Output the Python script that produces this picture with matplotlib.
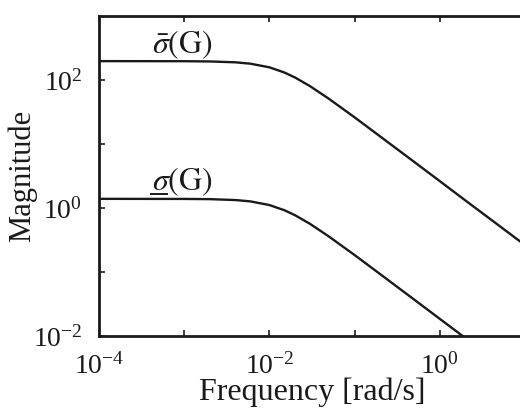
import matplotlib
matplotlib.use("Agg")
import matplotlib.pyplot as plt
from matplotlib.lines import Line2D
from matplotlib.ticker import FixedLocator, LogFormatterMathtext, NullFormatter

plt.rcParams['font.family'] = ['Liberation Serif', 'DejaVu Serif']
plt.rcParams['mathtext.fontset'] = 'stix'

# Frequency samples [rad/s]
freq = [1e-4, 1e-3, 2e-3, 4e-3, 6e-3, 1e-2, 1.5e-2, 2e-2, 3e-2, 5e-2,
        0.1, 0.2, 0.5, 1.0, 2.0, 5.0, 10.0]
# Maximum singular value
sigma_max = [197.2, 196.6, 195.0, 188.9, 179.8, 157.8, 131.0, 109.4, 80.1, 50.8,
             26.1, 13.1, 5.26, 2.63, 1.31, 0.526, 0.263]
# Minimum singular value
sigma_min = [1.39, 1.386, 1.375, 1.331, 1.268, 1.112, 0.923, 0.771, 0.565, 0.358,
             0.184, 0.0925, 0.0371, 0.01853, 0.00927, 0.00371, 0.00185]

x_major = [1e-4, 1e-2, 1e0]
x_minor = [1e-3, 1e-1, 1e1]
y_major = [1e-2, 1e0, 1e2]
y_minor = [1e-1, 1e1]

ink = '#1a1a1a'
fig = plt.figure(figsize=(5.2, 4.11), dpi=100)
ax = fig.add_axes([99/520, 75/411, 426/520, 320/411])
ax.loglog(freq, sigma_max, color=ink, lw=1.7)
ax.loglog(freq, sigma_min, color=ink, lw=1.7)
ax.set_xlim(1e-4, 1e1)
ax.set_ylim(1e-2, 1e3)

ax.xaxis.set_major_locator(FixedLocator(x_major))
ax.xaxis.set_minor_locator(FixedLocator(x_minor))
ax.yaxis.set_major_locator(FixedLocator(y_major))
ax.yaxis.set_minor_locator(FixedLocator(y_minor))
ax.xaxis.set_major_formatter(LogFormatterMathtext())
ax.yaxis.set_major_formatter(LogFormatterMathtext())
ax.xaxis.set_minor_formatter(NullFormatter())
ax.yaxis.set_minor_formatter(NullFormatter())
ax.tick_params(which='both', direction='in', top=True, right=False,
               length=4, width=1.2, labelsize=20, colors=ink)
ax.tick_params(axis='x', pad=12)
ax.tick_params(axis='y', pad=12)
for s in ax.spines.values():
    s.set_linewidth(2.0)
    s.set_color(ink)

ax.set_xlabel('Frequency [rad/s]', fontsize=23, color=ink, labelpad=-1)
ax.set_ylabel('Magnitude', fontsize=22, color=ink, labelpad=-3)

ax.text(9.5e-4, 200, r'$\bar{\sigma}(\mathrm{G})$', fontsize=23, ha='center', va='bottom', color=ink)
ax.text(9.5e-4, 1.45, r'$\sigma(\mathrm{G})$', fontsize=23, ha='center', va='bottom', color=ink)
# underline under the sigma of the minimum singular value label
fig.add_artist(Line2D([151/520, 167/520], [1 - 194.5/411, 1 - 194.5/411],
                      transform=fig.transFigure, color=ink, lw=1.4))

fig.savefig('out.png', dpi=100)
